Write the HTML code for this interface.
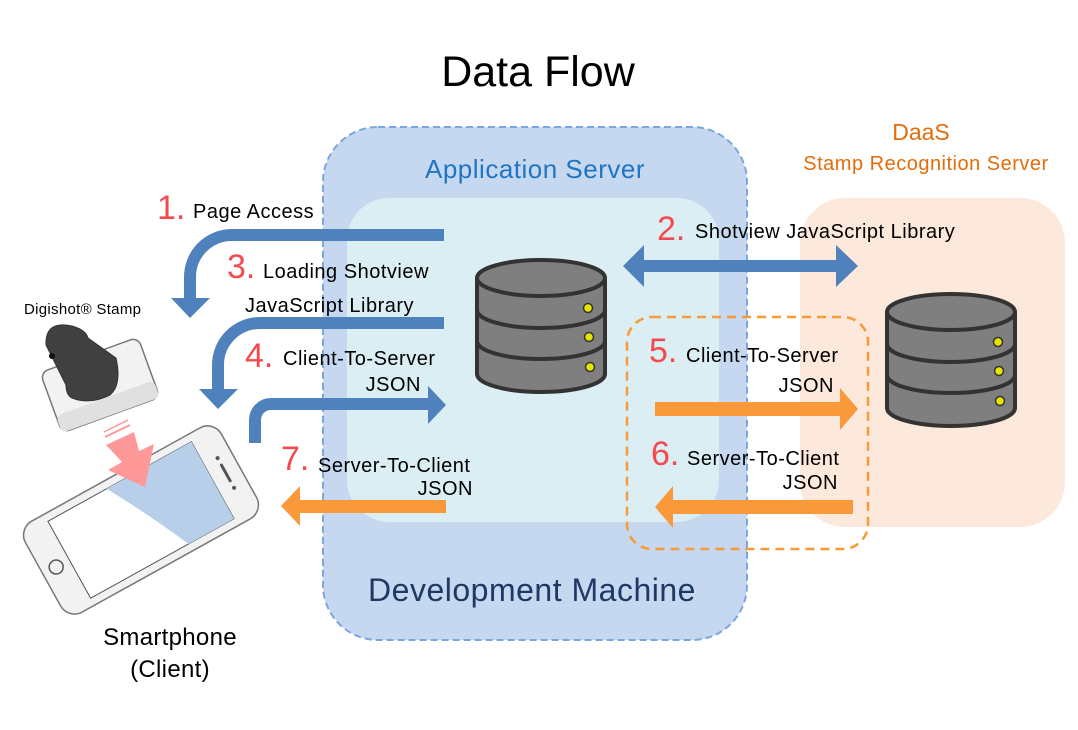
<!DOCTYPE html>
<html><head><meta charset="utf-8"><style>
html,body{margin:0;padding:0;background:#fff;}
svg{display:block;font-family:"Liberation Sans","DejaVu Sans",sans-serif;}
</style></head><body>
<svg width="1078" height="730" viewBox="0 0 1078 730" xmlns="http://www.w3.org/2000/svg">
<defs>
<g id="db">
  <path d="M0,18 L0,114 A64,18 0 0 0 128,114 L128,18" fill="#7f7f7f" stroke="#333" stroke-width="4"/>
  <ellipse cx="64" cy="18" rx="64" ry="18" fill="#7f7f7f" stroke="#333" stroke-width="4"/>
  <path d="M0,50 A64,18 0 0 0 128,50" fill="none" stroke="#333" stroke-width="4"/>
  <path d="M0,81 A64,18 0 0 0 128,81" fill="none" stroke="#333" stroke-width="4"/>
  <circle cx="111" cy="48" r="4.5" fill="#e5e500" stroke="#333" stroke-width="1.5"/>
  <circle cx="112" cy="77" r="4.5" fill="#e5e500" stroke="#333" stroke-width="1.5"/>
  <circle cx="113" cy="107" r="4.5" fill="#e5e500" stroke="#333" stroke-width="1.5"/>
</g>
</defs>
<text x="538" y="86" font-size="43" text-anchor="middle" fill="#000">Data Flow</text>

<rect x="800" y="198" width="265" height="329" rx="45" fill="#fde9db"/>
<rect x="323" y="127" width="424" height="513" rx="55" fill="#c5d8ef" stroke="#7ba7de" stroke-width="2" stroke-dasharray="7,4"/>
<rect x="347" y="198" width="372" height="324" rx="42" fill="#dbeef4"/>
<text x="535" y="178" font-size="26" letter-spacing="0.5" text-anchor="middle" fill="#1f74c4">Application Server</text>
<text x="532" y="601" font-size="32" letter-spacing="0.5" text-anchor="middle" fill="#1f3864">Development Machine</text>
<text x="921" y="140" font-size="23" text-anchor="middle" fill="#e46c0a">DaaS</text>
<text x="926" y="170" font-size="20" letter-spacing="0.5" text-anchor="middle" fill="#e46c0a">Stamp Recognition Server</text>
<rect x="627" y="317" width="241" height="232" rx="25" fill="none" stroke="#f9993a" stroke-width="2.5" stroke-dasharray="9,6"/>

<use href="#db" x="477" y="260"/>
<use href="#db" x="887" y="294"/>

<path d="M444,235 L232,235 A42,42 0 0 0 190,277 L190,300" fill="none" stroke="#4f81bd" stroke-width="12"/>
<polygon points="171,298 210,298 190,318" fill="#4f81bd"/>
<path d="M444,323 L260,323 A42,42 0 0 0 218,365 L218,390" fill="none" stroke="#4f81bd" stroke-width="12"/>
<polygon points="199,389 238,389 218,409" fill="#4f81bd"/>
<path d="M255,443 L255,420 A16,16 0 0 1 271,404 L430,404" fill="none" stroke="#4f81bd" stroke-width="12"/>
<polygon points="428,386 446,405 428,424" fill="#4f81bd"/>
<rect x="640" y="260" width="200" height="12" fill="#4f81bd"/>
<polygon points="644,245 623,266 644,287" fill="#4f81bd"/>
<polygon points="836,245 858,266 836,287" fill="#4f81bd"/>

<rect x="298" y="500" width="148" height="13" fill="#f9993a"/>
<polygon points="300,486 281,506 300,526" fill="#f9993a"/>
<rect x="655" y="402" width="185" height="14" fill="#f9993a"/>
<polygon points="840,388 858,409 840,430" fill="#f9993a"/>
<rect x="672" y="500" width="181" height="14" fill="#f9993a"/>
<polygon points="673,486 655,507 673,528" fill="#f9993a"/>

<g font-size="20" letter-spacing="0.5" fill="#000">
<text x="157" y="219" font-size="34" letter-spacing="0" fill="#f4494f">1.</text><text x="193" y="218">Page Access</text>
<text x="227" y="278" font-size="34" letter-spacing="0" fill="#f4494f">3.</text><text x="263" y="278">Loading Shotview</text>
<text x="245" y="312">JavaScript Library</text>
<text x="245" y="367" font-size="34" letter-spacing="0" fill="#f4494f">4.</text><text x="283" y="365">Client-To-Server</text>
<text x="421" y="391" text-anchor="end">JSON</text>
<text x="281" y="470" font-size="34" letter-spacing="0" fill="#f4494f">7.</text><text x="318" y="472">Server-To-Client</text>
<text x="473" y="495" text-anchor="end">JSON</text>
<text x="657" y="240" font-size="34" letter-spacing="0" fill="#f4494f">2.</text><text x="695" y="238">Shotview JavaScript Library</text>
<text x="649" y="362" font-size="34" letter-spacing="0" fill="#f4494f">5.</text><text x="686" y="362">Client-To-Server</text>
<text x="834" y="392" text-anchor="end">JSON</text>
<text x="651" y="465" font-size="34" letter-spacing="0" fill="#f4494f">6.</text><text x="687" y="465">Server-To-Client</text>
<text x="838" y="489" text-anchor="end">JSON</text>
</g>
<text x="24" y="314" font-size="15" letter-spacing="0.3" fill="#000">Digishot® Stamp</text>
<text x="170" y="645" font-size="24" letter-spacing="0.3" text-anchor="middle" fill="#000">Smartphone</text>
<text x="170" y="677" font-size="24" letter-spacing="0.3" text-anchor="middle" fill="#000">(Client)</text>

<g transform="translate(141,520) rotate(-29)">
  <rect x="-112" y="-52" width="224" height="104" rx="16" fill="#f2f2f2" stroke="#777" stroke-width="1.5"/>
  <rect x="-82" y="-44" width="164" height="88" fill="#fff" stroke="#555" stroke-width="1"/>
  <path d="M-15,-44 L82,-44 L82,44 L30,44 Q10,0 -15,-44 Z" fill="#b8cfe9"/>
  <circle cx="-97" cy="0" r="7" fill="none" stroke="#555" stroke-width="1.5"/>
  <line x1="97" y1="-9" x2="97" y2="9" stroke="#555" stroke-width="3" stroke-linecap="round"/>
  <circle cx="97" cy="-17" r="2" fill="#555"/>
  <circle cx="97" cy="17" r="2" fill="#555"/>
</g>
<g transform="translate(100,385) rotate(-20)">
  <rect x="-52" y="-32" width="104" height="64" rx="8" fill="#f2f2f2" stroke="#777" stroke-width="1.5"/>
  <rect x="-52" y="14" width="104" height="18" rx="6" fill="#e0e0e0"/>
</g>
<path d="M46,345 Q45,320 72,326 Q86,330 88,338 L116,358 Q122,385 110,395 Q90,405 72,398 Q66,395 66,385 Z" fill="#404040" stroke="#333" stroke-width="1"/>
<circle cx="52" cy="356" r="3" fill="#111"/>
<polygon points="106,445 134,432 139,451 154,444 145,487 108,470 122,462" fill="#ff9999"/>
<line x1="105" y1="437" x2="130" y2="425" stroke="#ff9999" stroke-width="2"/>
<line x1="104" y1="432" x2="128" y2="420" stroke="#ff9999" stroke-width="1.5"/>
</svg>
</body></html>
